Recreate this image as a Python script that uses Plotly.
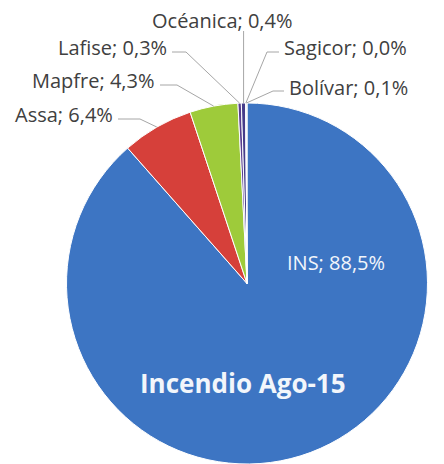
import plotly.graph_objects as go
import math

# ---- data ----
companies = ["INS", "Assa", "Mapfre", "Lafise", "Océanica", "Sagicor", "Bolívar"]
shares = [88.5, 6.4, 4.3, 0.3, 0.4, 0.0, 0.1]
colors = ["#3D75C3", "#D6403A", "#9ECB3A", "#5A3F8F", "#463C8A", "#F79646", "#E8E8F0"]
title_text = "Incendio Ago-15"

# ---- layout geometry (pixels) ----
W, H = 444, 464
cx, cy, r = 247, 284, 181

# label anchor positions (pixels), alignment, elbow x of leader line
label_pos = {
    "Assa":     (115, 115, "right", 140),
    "Mapfre":   (157, 81, "right", 177),
    "Lafise":   (169, 48, "right", 186),
    "Océanica": (222, 20, "center", None),
    "Sagicor":  (282, 48, "left", 267),
    "Bolívar":  (287, 87, "left", 273),
}

def px(x):
    return x / W

def py(y):
    return 1 - y / H

def fmt(name, v):
    return f"{name}; {v:.1f}%".replace(".", ",")

fig = go.Figure(go.Pie(
    labels=companies,
    values=[max(v, 1e-6) for v in shares],
    marker=dict(colors=colors, line=dict(color="white", width=1)),
    sort=False,
    direction="clockwise",
    rotation=0,
    textinfo="none",
    hoverinfo="label+percent",
    showlegend=False,
    domain=dict(x=[px(cx - r), px(cx + r)], y=[max(0, py(cy + r)), py(cy - r)]),
))

annotations = []
shapes = []
font_family = "Open Sans, Lato, sans-serif"
total = sum(shares)
cum = 0.0
line_style = dict(color="#A6A6A6", width=1)
for name, v in zip(companies, shares):
    mid = (cum + v / 2) / total * 2 * math.pi
    cum += v
    ex = cx + r * math.sin(mid)
    ey = cy - r * math.cos(mid)
    if name == "INS":
        annotations.append(dict(x=px(336), y=py(262), xref="paper", yref="paper",
                                text=fmt(name, v), showarrow=False,
                                font=dict(family=font_family, size=20, color="#F2F6FB"),
                                xanchor="center", yanchor="middle"))
        continue
    lx, ly, align, elbow = label_pos[name]
    annotations.append(dict(x=px(lx), y=py(ly), xref="paper", yref="paper",
                            text=fmt(name, v), showarrow=False,
                            font=dict(family=font_family, size=20, color="#404040"),
                            xanchor=align, yanchor="middle"))
    if align == "center":
        shapes.append(dict(type="line", xref="paper", yref="paper",
                           x0=px(ex), y0=py(ly + 11), x1=px(ex), y1=py(ey),
                           line=line_style))
    else:
        sx = lx + (3 if align == "right" else -3)
        sy = ly + 4
        shapes.append(dict(type="line", xref="paper", yref="paper",
                           x0=px(sx), y0=py(sy), x1=px(elbow), y1=py(sy),
                           line=line_style))
        shapes.append(dict(type="line", xref="paper", yref="paper",
                           x0=px(elbow), y0=py(sy), x1=px(ex), y1=py(ey),
                           line=line_style))

annotations.append(dict(x=px(243), y=py(383), xref="paper", yref="paper",
                        text=f"<b>{title_text}</b>", showarrow=False,
                        font=dict(family=font_family, size=26, color="#F2F6FB"),
                        xanchor="center", yanchor="middle"))

fig.update_layout(
    width=W, height=H,
    margin=dict(l=0, r=0, t=0, b=0),
    paper_bgcolor="white",
    plot_bgcolor="white",
    annotations=annotations,
    shapes=shapes,
)

fig.write_html("out.html", post_script="document.body.style.margin='0';",
               config={"displayModeBar": False})
